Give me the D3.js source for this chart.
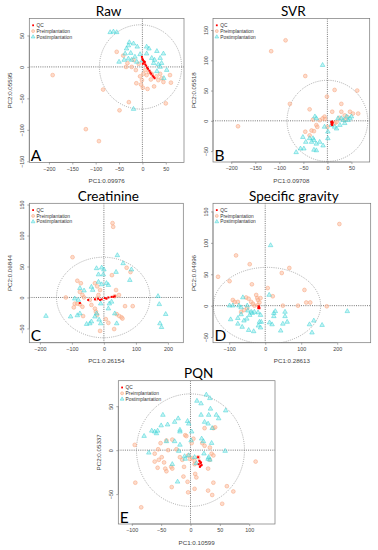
<!DOCTYPE html>
<html><head><meta charset="utf-8">
<script src="https://cdn.jsdelivr.net/npm/d3@7/dist/d3.min.js"></script>
<style>body{margin:0;background:#fff}svg{display:block}</style>
</head><body>
<svg id="chart" width="378" height="550"></svg>
<script>
// ---------- DATA (PC1, PC2) ----------
const qcA = [[-1,16],[0,13],[1,11],[3,9],[4,7],[6,4],[8,2],[10,-1],[12,-3],[15,-6],[17,-9],[19,-11],[22,-14],[24,-16],[26,-18],[1,5],[5,8]];
const preA = [[-192,-13],[-84,-36],[-49,-69],[-29,-56],[-121,-99],[-93,-118],[-55,24],[-41,18],[-32,6],[-23,0],[-14,-5],[-13,-26],[-1,-21],[1,-33],[11,-35],[25,-31],[34,-21],[41,-18],[45,-24],[61,-25],[59,-13],[50,-58],[20,-11],[9,-13],[2,-11],[14,-8],[38,-11],[-35,0],[-19,11],[-5,-15],[6,-5],[30,-15],[-8,5],[18,-20],[-3,-28]];
const postA = [[-69,55],[-62,56],[-55,55],[-28,39],[-30,34],[-34,29],[-37,21],[-25,22],[-19,37],[-50,8],[-39,11],[-30,13],[-23,11],[-16,16],[-12,8],[9,21],[14,29],[20,14],[24,6],[31,25],[38,14],[41,6],[45,21],[34,4],[26,11],[52,-5],[46,-18],[31,-7],[38,0],[-19,-67],[-11,32],[9,32],[0,10],[-5,20]];

const qcB = [[8,-2],[10,-4],[9,-6],[11,-3],[10,-1],[9,-5],[10,-7]];
const preB = [[-186,-9],[-117,115],[-87,133],[-46,74],[15,51],[62,50],[-1,40],[-78,28],[-37,19],[29,28],[10,15],[29,15],[47,15],[64,12],[53,12],[36,9],[-6,7],[-10,4],[-16,1],[-23,-7],[-46,-18],[-33,-16],[-28,-17],[-37,-24],[15,-4],[19,-2],[36,1],[42,6],[0,-10],[-5,3],[25,5],[-30,2],[-21,-10]];
const postB = [[-10,92],[-26,7],[-23,4],[-65,-52],[-56,-46],[-49,-46],[-28,-48],[-23,-49],[-30,-29],[-28,-32],[-23,-38],[-9,-41],[-16,-35],[1,-29],[1,-18],[-6,-10],[8,-7],[15,-10],[19,-13],[26,-7],[33,1],[36,-4],[43,1],[47,4],[50,7],[40,7],[29,4],[22,4],[-51,-27],[-37,-29],[-33,-35],[-45,-35]];

const qcC = [[-75,-9],[-49,-4],[-28,-3],[-18,-2],[-7,-3],[3,-1],[14,0],[24,1],[34,2],[-12,-4],[8,-2],[30,1]];
const preC = [[-98,65],[27,120],[29,114],[71,48],[83,41],[25,36],[38,12],[-119,0],[-83,27],[-72,23],[-75,9],[-67,4],[-62,0],[-91,-10],[-83,-10],[-75,-11],[-94,-16],[-67,-15],[-65,-30],[-28,23],[-21,18],[-17,4],[-12,12],[-23,-2],[-28,-18],[-25,-23],[-21,-28],[-12,-54],[6,-35],[14,-41],[40,-27],[48,-30],[55,-32],[58,-34],[66,-14],[90,-14],[32,-51],[47,4],[34,2],[-44,-4],[-39,-12]];
const postC = [[-181,-30],[42,68],[60,55],[86,45],[81,28],[38,41],[-23,47],[-7,48],[0,45],[-17,37],[-2,37],[-17,25],[-7,21],[8,23],[14,20],[-75,15],[-62,11],[-39,17],[-35,12],[-10,-10],[14,-18],[-23,-26],[-28,-31],[-44,-42],[-39,-39],[-54,-43],[-15,-36],[-10,-42],[34,-26],[40,-42],[169,2],[173,-11],[193,-27],[175,-42],[180,-48],[-104,-31],[-83,-29],[-75,-26],[-91,-2],[-80,-4],[17,-10],[24,-7]];

const qcD = [[-18,-3],[-17,-2],[-19,-4],[-16,-4],[-18,-1]];
const preD = [[206,130],[-81,80],[-43,66],[67,60],[46,52],[-131,46],[-99,39],[-37,34],[7,28],[109,25],[114,5],[125,5],[171,-1],[91,0],[21,15],[-90,9],[-85,6],[-76,6],[-53,13],[-46,11],[-39,6],[-25,17],[-22,12],[-20,9],[-13,12],[-30,0],[-34,3],[49,0],[-67,-10],[-59,-7],[-50,-4],[-20,1],[-16,5]];
const postD = [[15,96],[-99,0],[-90,0],[-62,13],[-73,0],[-67,-3],[-50,0],[-48,-8],[-39,-10],[-76,-20],[-67,-14],[-59,-24],[-51,-21],[-43,-15],[-36,-12],[-30,-10],[-20,-11],[-13,-15],[-96,-22],[-76,-29],[-64,-34],[-46,-39],[-32,-41],[-19,-32],[-13,-35],[-11,-26],[11,17],[12,-27],[19,-30],[24,-12],[28,-9],[24,-17],[55,-10],[55,-17],[61,-26],[49,-29],[123,-30],[135,-24],[130,-43],[158,-31],[228,-9],[-16,-26],[43,-40]];

const qcE = [[13,-8],[16,-13],[18,-14],[14,-16],[19,-17],[16,-19],[17,-18],[15,-12],[17,-15]];
const preE = [[-95,6],[-94,-37],[-84,-65],[-61,-4],[-54,-11],[-61,-13],[-56,-20],[-49,-8],[-45,-14],[-41,-24],[-43,-21],[-33,-19],[-32,-42],[-31,-21],[-51,8],[-41,11],[-31,12],[-38,0],[-55,1],[-24,1],[-18,-8],[-14,-11],[-11,-19],[-9,17],[-7,16],[-4,-6],[-1,-10],[7,-12],[3,-9],[5,13],[2,8],[13,-8],[7,-16],[8,-27],[10,-31],[7,-44],[-12,-30],[-5,-36],[-4,-48],[20,8],[24,5],[33,3],[36,-4],[39,-6],[39,25],[42,26],[24,25],[30,-46],[39,-37],[37,-51],[54,-61],[62,-41],[73,-47],[111,-13],[30,-21],[33,-11]];
const postE = [[27,63],[11,56],[18,53],[33,59],[60,45],[34,47],[44,40],[48,36],[31,40],[18,40],[24,32],[30,30],[37,25],[-47,40],[-50,28],[-39,29],[-27,32],[-21,36],[-5,33],[-3,30],[-18,21],[-18,23],[-66,22],[-61,21],[-58,19],[-56,22],[-79,16],[-41,10],[-27,10],[-18,6],[-71,-3],[-20,-1],[-10,-7],[-9,-10],[-3,-6],[7,-8],[10,-15],[-31,-16],[-22,-36],[23,-4],[30,-10],[33,-11],[31,-8],[59,-1],[19,13],[22,10],[36,8],[2,21],[1,11]];

const titles = ["Raw","SVR","Creatinine","Specific gravity","PQN"];
const letters = ["A","B","C","D","E"];
const xLabels = ["PC1:0.09976","PC1:0.09708","PC1:0.26154","PC1:0.28613","PC1:0.10599"];
const yLabels = ["PC2:0.05595","PC2:0.05518","PC2:0.06844","PC2:0.04996","PC2:0.05337"];
const xTicks = [[-200,-150,-100,-50,0,50],[-200,-150,-100,-50,0,50],[-200,-100,0,100,200],[-100,0,100,200],[-100,-50,0,50,100]];
const yTicks = [[-150,-100,-50,0,50],[-50,0,50,100,150],[-50,0,50,100,150],[-50,0,50,100,150],[-50,0,50]];
const xDomains = [[-242,89],[-238,88],[-233,248],[-145,293],[-123,144]];
const yDomains = [[-152,77],[-68,169],[-73,152],[-59,163],[-84,79]];
// confidence ellipse: centre x, centre y, radius x, radius y (data units)
const ellipses = [[-4,0,88,67],[0,0,84,67],[-2,0,146,65],[5,0,149,61],[0,0,92,64]];
const legendLabels = ["QC","Preimplantation","Postimplantation"];
const qcSets = [qcA,qcB,qcC,qcD,qcE];
const preSets = [preA,preB,preC,preD,preE];
const postSets = [postA,postB,postC,postD,postE];

// ---------- LAYOUT ----------
const boxes = [[29.3,18.5,184,162.5],[213,18.5,369.7,162],[29.3,203.3,183.3,342.7],[213,203.3,370.7,342.7],[118.3,380.7,275,524]];

const svg = d3.select("#chart");
const C_PRE_FILL = "rgba(252,190,160,0.55)", C_PRE_STROKE = "#f6a27a";
const C_POST_FILL = "rgba(120,230,230,0.45)", C_POST_STROKE = "#3fd0d4";
const C_QC = "#ff0000";
const tri = d3.symbol().type(d3.symbolTriangle).size(9);

boxes.forEach((b, i) => {
  const [x0, y0, x1, y1] = b;
  const x = d3.scaleLinear().domain(xDomains[i]).range([x0, x1]);
  const y = d3.scaleLinear().domain(yDomains[i]).range([y1, y0]);
  const g = svg.append("g");
  const clipId = "clip" + i;
  svg.append("clipPath").attr("id", clipId).append("rect")
    .attr("x", x0).attr("y", y0).attr("width", x1 - x0).attr("height", y1 - y0);
  const plot = g.append("g").attr("clip-path", `url(#${clipId})`);

  // crosshair
  plot.append("line").attr("x1", x(0)).attr("x2", x(0)).attr("y1", y0).attr("y2", y1)
    .attr("stroke", "#555").attr("stroke-width", 0.8).attr("stroke-dasharray", "1,1.2");
  plot.append("line").attr("x1", x0).attr("x2", x1).attr("y1", y(0)).attr("y2", y(0))
    .attr("stroke", "#555").attr("stroke-width", 0.8).attr("stroke-dasharray", "1,1.2");
  // ellipse
  const e = ellipses[i];
  plot.append("ellipse").attr("cx", x(e[0])).attr("cy", y(e[1]))
    .attr("rx", Math.abs(x(e[2]) - x(0))).attr("ry", Math.abs(y(e[3]) - y(0)))
    .attr("fill", "none").attr("stroke", "#888").attr("stroke-width", 0.7).attr("stroke-dasharray", "1,1.2");

  // points
  plot.selectAll(".pre").data(preSets[i]).enter().append("circle")
    .attr("cx", d => x(d[0])).attr("cy", d => y(d[1])).attr("r", 1.9)
    .attr("fill", C_PRE_FILL).attr("stroke", C_PRE_STROKE).attr("stroke-width", 0.5);
  plot.selectAll(".post").data(postSets[i]).enter().append("path")
    .attr("d", tri).attr("transform", d => `translate(${x(d[0])},${y(d[1])})`)
    .attr("fill", C_POST_FILL).attr("stroke", C_POST_STROKE).attr("stroke-width", 0.5);
  plot.selectAll(".qc").data(qcSets[i]).enter().append("rect")
    .attr("x", d => x(d[0]) - 1).attr("y", d => y(d[1]) - 1).attr("width", 2).attr("height", 2)
    .attr("fill", C_QC);

  // box
  g.append("rect").attr("x", x0).attr("y", y0).attr("width", x1 - x0).attr("height", y1 - y0)
    .attr("fill", "none").attr("stroke", "#777").attr("stroke-width", 0.7);

  // axes
  const xa = g.append("g").attr("transform", `translate(0,${y1})`)
    .call(d3.axisBottom(x).tickValues(xTicks[i]).tickSize(2).tickPadding(2.5).tickFormat(d3.format("d")));
  const ya = g.append("g").attr("transform", `translate(${x0},0)`)
    .call(d3.axisLeft(y).tickValues(yTicks[i]).tickSize(2).tickPadding(2).tickFormat(d3.format("d")));
  [xa, ya].forEach(a => {
    a.select(".domain").attr("stroke", "#777").attr("stroke-width", 0.6);
    a.selectAll(".tick line").attr("stroke", "#777").attr("stroke-width", 0.6);
    a.selectAll("text").attr("font-family", "Liberation Sans, Arial, sans-serif")
      .attr("font-size", 5.4).attr("fill", "#444");
  });
  xa.select(".domain").attr("d", `M${x(xTicks[i][0])},0V0H${x(xTicks[i][xTicks[i].length-1])}V0`);
  ya.select(".domain").attr("d", `M0,${y(yTicks[i][0])}H0V${y(yTicks[i][yTicks[i].length-1])}H0`);
  ya.selectAll(".tick text").attr("transform", "rotate(-90)")
    .attr("x", 0).attr("y", -5).attr("dy", 0).attr("text-anchor", "middle");

  // axis titles
  g.append("text").attr("x", (x0 + x1) / 2).attr("y", y1 + 20.5).attr("text-anchor", "middle")
    .attr("font-family", "Liberation Sans, Arial, sans-serif").attr("font-size", 6.2).attr("fill", "#444")
    .text(xLabels[i]);
  g.append("text").attr("transform", `translate(${x0 - 17},${(y0 + y1) / 2}) rotate(-90)`)
    .attr("text-anchor", "middle")
    .attr("font-family", "Liberation Sans, Arial, sans-serif").attr("font-size", 6.2).attr("fill", "#444")
    .text(yLabels[i]);

  // title
  g.append("text").attr("x", (x0 + x1) / 2 + 2).attr("y", y0 - 2.5).attr("text-anchor", "middle")
    .attr("font-family", "Lato, 'Open Sans', sans-serif").attr("font-size", 13.5).attr("fill", "#000")
    .text(titles[i]);
  // panel letter
  g.append("text").attr("x", x0 + 1.5).attr("y", y1 - 1.5)
    .attr("font-family", "Lato, 'Open Sans', sans-serif").attr("font-size", 15.5).attr("fill", "#000")
    .text(letters[i]);

  // legend
  const lg = g.append("g").attr("transform", `translate(${x0 + 3.8},${y0 + 6.8})`);
  legendLabels.forEach((lab, k) => {
    const ly = k * 5.8;
    if (k === 0) lg.append("rect").attr("x", -0.9).attr("y", ly - 0.9).attr("width", 1.8).attr("height", 1.8).attr("fill", C_QC);
    if (k === 1) lg.append("circle").attr("cx", 0).attr("cy", ly).attr("r", 1.5).attr("fill", C_PRE_FILL).attr("stroke", C_PRE_STROKE).attr("stroke-width", 0.5);
    if (k === 2) lg.append("path").attr("d", d3.symbol().type(d3.symbolTriangle).size(6)).attr("transform", `translate(0,${ly})`).attr("fill", C_POST_FILL).attr("stroke", C_POST_STROKE).attr("stroke-width", 0.5);
    lg.append("text").attr("x", 3.5).attr("y", ly).attr("dy", "0.35em")
      .attr("font-family", "Liberation Sans, Arial, sans-serif").attr("font-size", 4.8).attr("fill", "#333")
      .text(lab);
  });
});
</script>
</body></html>
